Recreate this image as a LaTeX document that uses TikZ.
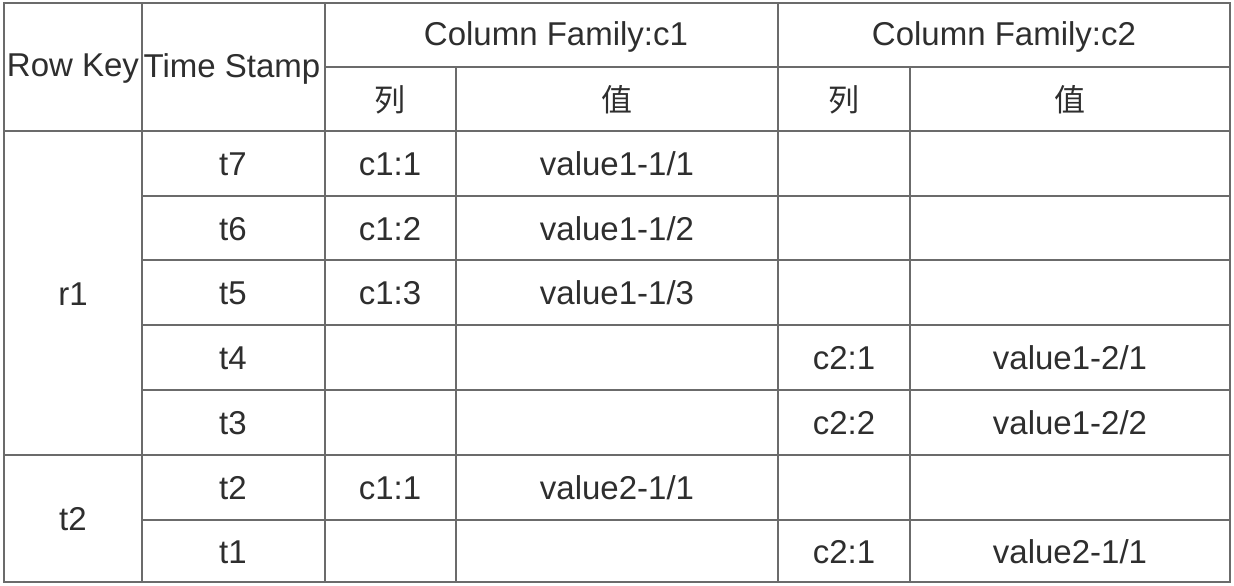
\documentclass[tikz,border=0pt]{standalone}
\usepackage{fontspec}
\setmainfont{Liberation Sans}
\newfontfamily\cjk{Noto Sans CJK SC}
\begin{document}
\begin{tikzpicture}[x=1pt,y=-1pt,
  grid/.style={draw=black!58,line width=2pt},
  cell/.style={text=black!82,font=\fontsize{33}{40}\selectfont,inner sep=0pt,anchor=center},
  hz/.style={text=black!82,font=\cjk\fontsize{31}{38}\selectfont,inner sep=0pt,anchor=center}]
\useasboundingbox (0,0) rectangle (1234,586);
\fill[white] (0,0) rectangle (1234,586);
% outer border
\draw[grid] (4,3) rectangle (1230,582);
% vertical lines
\draw[grid] (142,3) -- (142,582);
\draw[grid] (325,3) -- (325,582);
\draw[grid] (456,67) -- (456,582);
\draw[grid] (778,3) -- (778,582);
\draw[grid] (910,67) -- (910,582);
% horizontal lines
\draw[grid] (325,67) -- (1230,67);
\draw[grid] (4,131) -- (1230,131);
\foreach \y in {196,260,325,390} \draw[grid] (142,\y) -- (1230,\y);
\draw[grid] (4,455) -- (1230,455);
\draw[grid] (142,520) -- (1230,520);
% header
\node[cell] (rk) at (73,69) {Row Key};
\node[cell] (ts) at (232,69) {Time Stamp};
\node[cell] (cf1) at (556,37) {Column Family:c1};
\node[cell] (cf2) at (1004,37) {Column Family:c2};
\node[hz] (l1) at (390,100) {列};
\node[hz] (v1) at (617,100) {值};
\node[hz] (l2) at (844,100) {列};
\node[hz] (v2) at (1070,100) {值};
% row keys
\node[cell] (r1) at (73,294) {r1};
\node[cell] (rt2) at (73,519) {t2};
% time stamps
\node[cell] (t7) at (233,164) {t7};
\node[cell] (t6) at (233,229) {t6};
\node[cell] (t5) at (233,293) {t5};
\node[cell] (t4) at (233,358) {t4};
\node[cell] (t3) at (233,423) {t3};
\node[cell] (t2) at (233,488) {t2};
\node[cell] (t1) at (233,552) {t1};
% cf1
\node[cell] (a1) at (390,164) {c1:1};
\node[cell] (a2) at (390,229) {c1:2};
\node[cell] (a3) at (390,293) {c1:3};
\node[cell] (a4) at (390,488) {c1:1};
\node[cell] (b1) at (617,164) {value1-1/1};
\node[cell] (b2) at (617,229) {value1-1/2};
\node[cell] (b3) at (617,293) {value1-1/3};
\node[cell] (b4) at (617,488) {value2-1/1};
% cf2
\node[cell] (c1) at (844,358) {c2:1};
\node[cell] (c2) at (844,423) {c2:2};
\node[cell] (c3) at (844,552) {c2:1};
\node[cell] (d1) at (1070,358) {value1-2/1};
\node[cell] (d2) at (1070,423) {value1-2/2};
\node[cell] (d3) at (1070,552) {value2-1/1};
\end{tikzpicture}
\end{document}
